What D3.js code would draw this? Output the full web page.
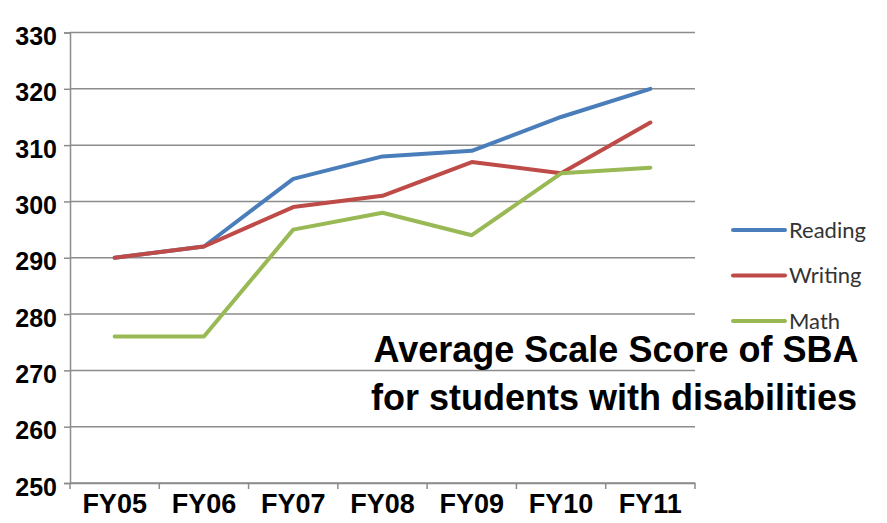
<!DOCTYPE html>
<html>
<head>
<meta charset="utf-8">
<script src="https://cdn.jsdelivr.net/npm/d3@7"></script>
<style>
  body { margin: 0; background: #fff; }
  svg { display: block; }
</style>
</head>
<body>
<div id="chart"></div>
<script>
var years = ["FY05", "FY06", "FY07", "FY08", "FY09", "FY10", "FY11"];
var reading = [290, 292, 304, 308, 309, 315, 320];
var writing = [290, 292, 299, 301, 307, 305, 314];
var math    = [276, 276, 295, 298, 294, 305, 306];
var yTicks  = [250, 260, 270, 280, 290, 300, 310, 320, 330];

var series = [
    {name: "Reading", values: reading, color: "#4a7ebb"},
    {name: "Writing", values: writing, color: "#be4b48"},
    {name: "Math",    values: math,    color: "#98b954"}
];

var W = 887, H = 523;
var m = {t: 32.5, r: 192, b: 40, l: 70};
var boldFont = "'Liberation Sans', Arial, Helvetica, sans-serif";

var svg = d3.select("#chart").append("svg")
    .attr("width", W).attr("height", H);

var x = d3.scaleBand().domain(years).range([m.l, W - m.r]);
var y = d3.scaleLinear().domain([250, 330]).range([H - m.b, m.t]);

// gridlines
svg.append("g").selectAll("line").data(yTicks).enter().append("line")
    .attr("x1", m.l).attr("x2", W - m.r)
    .attr("y1", function(d){ return y(d); })
    .attr("y2", function(d){ return y(d); })
    .attr("stroke", "#8c8c8c").attr("stroke-width", 1.5);

// y axis
var yAxis = svg.append("g")
    .attr("transform", "translate(" + m.l + ",0)")
    .call(d3.axisLeft(y).tickValues(yTicks).tickSize(6).tickPadding(7));
yAxis.select(".domain").attr("stroke", "#8c8c8c").attr("stroke-width", 1.5);
yAxis.selectAll(".tick line").attr("stroke", "#8c8c8c").attr("stroke-width", 1.5);
yAxis.selectAll("text")
    .style("font-family", boldFont)
    .style("font-weight", "bold").style("font-size", "25px")
    .attr("fill", "#000").attr("dy", "0.48em");

// x axis with ticks at band edges
var xAxis = svg.append("g")
    .attr("transform", "translate(0," + (H - m.b) + ")")
    .call(d3.axisBottom(x).tickSize(0).tickPadding(11));
xAxis.select(".domain").attr("stroke", "#8c8c8c").attr("stroke-width", 1.5);
xAxis.selectAll("text")
    .style("font-family", boldFont)
    .style("font-weight", "bold").style("font-size", "27px")
    .attr("fill", "#000");

var edges = years.map(function(d){ return x(d); }).concat([x.range()[1]]);
svg.append("g").selectAll("line").data(edges).enter().append("line")
    .attr("x1", function(d){ return d; }).attr("x2", function(d){ return d; })
    .attr("y1", H - m.b).attr("y2", H - m.b + 6)
    .attr("stroke", "#8c8c8c").attr("stroke-width", 1.5);

// lines
var line = d3.line()
    .x(function(d, i){ return x(years[i]) + x.bandwidth() / 2; })
    .y(function(d){ return y(d); });

svg.append("g").selectAll("path").data(series).enter().append("path")
    .attr("d", function(s){ return line(s.values); })
    .attr("fill", "none")
    .attr("stroke", function(s){ return s.color; })
    .attr("stroke-width", 4)
    .attr("stroke-linejoin", "round")
    .attr("stroke-linecap", "round");

// legend
var leg = svg.append("g").selectAll("g").data(series).enter().append("g")
    .attr("transform", function(d, i){ return "translate(733," + (230 + i * 45.5) + ")"; });
leg.append("line").attr("x1", 0).attr("x2", 52)
    .attr("stroke", function(d){ return d.color; })
    .attr("stroke-width", 4).attr("stroke-linecap", "round");
leg.append("text").attr("x", 56).attr("dy", "0.35em")
    .style("font-family", "Lato, sans-serif")
    .style("font-size", "22px").attr("fill", "#333")
    .text(function(d){ return d.name; });

// title
var title = svg.append("text")
    .attr("text-anchor", "middle")
    .style("font-family", boldFont)
    .style("font-weight", "bold").style("font-size", "36px")
    .attr("fill", "#000");
title.append("tspan").attr("x", 616).attr("y", 362).text("Average Scale Score of SBA");
title.append("tspan").attr("x", 614).attr("y", 410).text("for students with disabilities");
</script>
</body>
</html>
